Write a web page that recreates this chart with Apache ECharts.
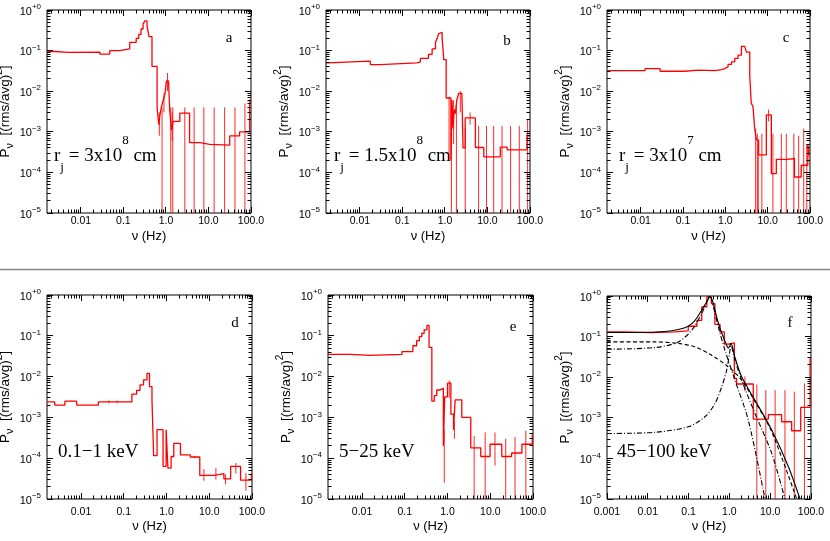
<!DOCTYPE html>
<html><head><meta charset="utf-8">
<script src="https://cdn.jsdelivr.net/npm/echarts@6/dist/echarts.min.js"></script>
<style>html,body{margin:0;padding:0;background:#fff}#c{width:830px;height:541px}</style>
</head><body><div id="c"></div>
<script>
// ---------------- data ----------------
// bin edges (Hz) and power per bin, [(rms/avg)^2]/Hz
const aEdges = [0.0016,0.0025,0.005,0.028,0.048,0.082,0.141,0.2,0.23,0.26,0.29,0.32,0.36,0.40,0.47,0.62,0.68,0.72,0.78,0.86,0.95,1.03,1.15,1.23,1.35,1.48,2.12,3.6,6.3,10.7,31.6,54,93,100];
const aPow   = [0.095,0.09,0.092,0.082,0.1,0.11,0.16,0.2,0.25,0.34,0.45,0.54,0.4,0.22,0.041,0.0039,0.0015,0.0025,0.004,0.0059,0.0085,0.018,0.02,0.0033,0.0011,0.0018,0.0029,0.00054,0.00049,0.00047,0.00079,0.001,0.006];
const aErr   = [[0.7,0.0008,0.003],[0.81,0,0.004],[0.9,0.003,0.009],[1.09,0.01,0.028],[1.3,0,0.004],[1.4,0.0006,0.003],[1.45,0,0.004],[2.78,0,0.004],[4.6,0,0.004],[7.8,0,0.004],[13.6,0,0.004],[24,0,0.004],[42,0,0.004],[72,0,0.005]];

const bEdges = [0.0016,0.0018,0.0176,0.03,0.22,0.265,0.41,0.5,0.6,0.66,0.71,0.78,0.86,0.94,1.07,1.38,1.47,1.55,1.65,1.76,1.9,2.1,2.5,2.67,3.0,5.2,8.2,15,20,29,85,100];
const bPow   = [0.05,0.055,0.045,0.05,0.053,0.064,0.081,0.11,0.16,0.2,0.26,0.28,0.2,0.06,0.0068,0.0002,0.006,0.0012,0.0035,0.0028,0.006,0.0088,0.0085,0.0004,0.0022,0.00041,0.00024,0.00024,0.00042,0.00036,0.0008];
const bErr   = [[1.25,0.0002,0.0073],[1.42,0,0.0011],[1.6,0.0005,0.006],[1.86,0,0.0045],[2.3,0.003,0.01],[3.0,0,0.0012],[3.9,0.0015,0.003],[6.2,0,0.0014],[9.5,0,0.0014],[14,0,0.0014],[22,0,0.0014],[35,0,0.0014],[56,0,0.0014],[88,0,0.002]];

const cEdges = [0.0016,0.0127,0.0287,0.111,0.229,0.565,0.81,0.97,1.16,1.4,1.67,2.0,2.4,2.87,3.15,3.77,4.1,4.5,4.9,5.4,6.1,9.3,12.2,16,30,43,62,89,97,100];
const cPow   = [0.032,0.036,0.031,0.033,0.032,0.034,0.036,0.04,0.046,0.053,0.064,0.077,0.127,0.12,0.092,0.025,0.005,0.0042,0.0013,0.00063,0.00027,0.0026,0.000093,0.00021,0.00022,0.000077,0.00015,0.00048,0.00026];
const cErr   = [[5.2,0,0.0012],[5.7,0,0.0009],[6.0,0,0.0005],[7.3,0,0.0009],[10.5,0.0018,0.0035],[13.3,0,0.0009],[21,0,0.0009],[27.5,0,0.0009],[41.5,0,0.0009],[54,0,0.0008],[71,0,0.0012],[84,0,0.0005]];

const dEdges = [0.0016,0.00243,0.0042,0.0079,0.0254,0.155,0.2,0.24,0.29,0.35,0.40,0.457,0.5,0.6,0.83,0.98,1.08,1.28,1.48,2.12,3.6,6.0,12.8,22,31.6,54,97,100];
const dPow   = [0.0024,0.002,0.0025,0.002,0.0024,0.0037,0.0046,0.0063,0.0083,0.012,0.0057,0.0027,0.000115,0.0005,0.000063,0.0005,0.000057,0.00011,0.00023,0.00012,0.000107,0.000038,0.000042,0.000031,0.000063,0.000029,0.000042];
const dErr   = [[0.045,0.0022,0.0026],[0.07,0.0022,0.0026],[4.5,0.0001,0.000115],[7.5,0.000028,0.000054],[14.3,0.00003,0.000058],[24,0.000023,0.00004],[42,0.000042,0.000076],[72,0.000016,0.000043]];

const eEdges = [0.0016,0.0053,0.0156,0.086,0.155,0.19,0.22,0.25,0.284,0.33,0.37,0.43,0.49,0.56,0.67,0.8,0.86,1.0,1.2,1.38,1.51,2.16,3.5,6.0,9.9,18.6,31.7,55,96,100];
const ePow   = [0.035,0.033,0.035,0.041,0.057,0.076,0.095,0.115,0.14,0.18,0.052,0.0025,0.0034,0.0047,0.0052,0.0002,0.0032,0.0069,0.0012,0.0005,0.0027,0.001,0.00018,0.00011,0.00022,0.00011,0.000134,0.00022,0.00037];
const eErr   = [[0.84,0.000025,0.0005],[1.1,0.003,0.008],[1.45,0.0003,0.0008],[4.2,0,0.00035],[7.6,0,0.00043],[12.9,0.000066,0.00043],[23,0,0.0003],[38,0,0.00033],[68,0,0.00047]];

const fEdges = [0.001,0.0028,0.0125,0.046,0.098,0.16,0.21,0.28,0.36,0.44,0.59,0.75,0.94,1.32,1.5,3.85,9.0,19,33.6,56,95,100];
const fPow   = [0.13,0.126,0.13,0.138,0.18,0.25,0.54,0.95,0.65,0.2,0.13,0.065,0.07,0.0093,0.0068,0.00093,0.0012,0.0008,0.00048,0.0018,0.029];
const fErr   = [[2.4,0.0045,0.0105],[4.7,0,0.0066],[7.8,0,0.0048],[13.2,0,0.0048],[23,0,0.0048],[39,0,0.0044],[69,0,0.007]];

// model curves in panel f
const fTotF  = [0.001,0.0059,0.0264,0.056,0.098,0.144,0.209,0.277,0.335,0.404,0.487,0.589,0.71,0.857,0.94,1.09,1.37,2.0,4.24,10.9,27.8,53.8];
const fTotP  = [0.126,0.126,0.133,0.149,0.18,0.252,0.445,0.71,0.98,0.65,0.305,0.158,0.098,0.061,0.052,0.067,0.0305,0.0102,0.0027,0.0005,0.000063,0.00001];
const fBrdF  = [0.001,0.015,0.056,0.144,0.367,0.94,2.0,4.24,10.9,44.6];
const fBrdP  = [0.074,0.074,0.068,0.0557,0.0347,0.018,0.0084,0.0025,0.00045,0.00001];
const fQ1F   = [0.001,0.015,0.056,0.119,0.209,0.305,0.335,0.404,0.535,0.78,1.37,2.9,7.45];
const fQ1P   = [0.0489,0.0537,0.074,0.143,0.368,0.86,0.98,0.537,0.173,0.046,0.0084,0.00088,0.00001];
const fQ2F   = [0.001,0.015,0.098,0.252,0.443,0.646,0.857,1.035,1.09,1.37,2.0,4.24,10.9,23];
const fQ2P   = [0.00041,0.00044,0.0006,0.00106,0.00225,0.0058,0.0149,0.046,0.06,0.026,0.0084,0.00128,0.000133,0.00001];

// axis tick decades
const xDecades = [-3,-2,-1,0,1,2];
const yDecades = [-5,-4,-3,-2,-1,0];
const minorMult = [2,3,4,5,6,7,8,9];
const xLabels = {'-3':'0.001','-2':'0.01','-1':'0.1','0':'1.0','1':'10.0','2':'100.0'};

const texts = ['a','b','c','d','e','f'];
// ---------------------------------------------------------------

const SANS = 'Liberation Sans, Arial, Helvetica, sans-serif';
const SERIF = 'Liberation Serif, Times New Roman, serif';

const panels = [
  {grid:{left:47, top:10, width:204, height:203}, xmin:0.0016, edges:aEdges, pow:aPow, err:aErr, row:0},
  {grid:{left:326,top:10, width:204, height:203}, xmin:0.0016, edges:bEdges, pow:bPow, err:bErr, row:0},
  {grid:{left:607,top:10, width:203, height:203}, xmin:0.0016, edges:cEdges, pow:cPow, err:cErr, row:0},
  {grid:{left:47, top:295,width:205, height:204}, xmin:0.0016, edges:dEdges, pow:dPow, err:dErr, row:1},
  {grid:{left:328,top:295,width:205, height:204}, xmin:0.0016, edges:eEdges, pow:ePow, err:eErr, row:1},
  {grid:{left:607,top:296,width:204, height:203}, xmin:0.001,  edges:fEdges, pow:fPow, err:fErr, row:1}
];

function isDecade(v){ const e=Math.log10(v); return Math.abs(e-Math.round(e))<1e-6; }
function xFmt(v){ if(!isDecade(v)) return ''; return xLabels[String(Math.round(Math.log10(v)))]||''; }
function yFmt(v){ if(!isDecade(v)) return ''; const e=Math.round(Math.log10(v)); return '{b|10}{s|'+(e===0?'+0':'\u2212'+(-e))+'}'; }

// tick values [value, isMajor] within [lo, hi]
function tickVals(decs, lo, hi){
  const out=[];
  decs.forEach(e=>{
    const base=Math.pow(10,e);
    [[1,1]].concat(minorMult.map(m=>[m,0])).forEach(([m,maj])=>{
      const v=m*base; if (v>=lo*0.9999 && v<=hi*1.0001) out.push([v,maj]);
    });
  });
  return out;
}
const MAJ=6, MIN=3.5;

function errRender(params, api){
  const cs=params.coordSys, f=api.value(0), lo=api.value(1), hi=api.value(2);
  const top=api.coord([f,hi]);
  let yb = lo>0 ? api.coord([f,lo])[1] : cs.y+cs.height;
  yb=Math.min(yb, cs.y+cs.height);
  return {type:'line',shape:{x1:top[0],y1:Math.max(top[1],cs.y),x2:top[0],y2:yb},
          style:{stroke:'#ff0000',lineWidth:1,opacity:0.85}};
}

const grids=[], xAxes=[], yAxes=[], series=[];
panels.forEach((p,i)=>{
  grids.push(Object.assign({show:true,borderColor:'#000',borderWidth:1,backgroundColor:'transparent',
    containLabel:false,outerBoundsMode:'none'},p.grid));
  xAxes.push({type:'log',logBase:10,gridIndex:i,min:p.xmin,max:100,
    axisLine:{show:false},axisTick:{show:false},
    splitLine:{show:false},minorTick:{show:false},
    axisLabel:{formatter:xFmt,color:'#000',fontSize:10.5,fontFamily:SANS,margin:p.row?8:3,showMinLabel:true,showMaxLabel:true},
    name:'\u03bd (Hz)',nameLocation:'middle',nameGap:p.row?21:17,
    nameTextStyle:{color:'#000',fontSize:13,fontFamily:SANS}});
  yAxes.push({type:'log',logBase:10,gridIndex:i,min:1e-5,max:1,
    axisLine:{show:false},axisTick:{show:false},
    splitLine:{show:false},
    axisLabel:{formatter:yFmt,margin:6,color:'#000',
      rich:{b:{fontSize:11,fontFamily:SANS,color:'#000',verticalAlign:'bottom'},
            s:{fontSize:8,fontFamily:SANS,color:'#000',verticalAlign:'bottom',padding:[0,0,6,0]}}},
    name:'{m|P}{sub|\u03bd}{m|  [(rms/avg)}{sup|2}{m|]}',nameLocation:'middle',nameRotate:90,nameGap:22,
    nameTextStyle:{color:'#000',rich:{
      m:{fontSize:13.5,fontFamily:SANS,color:'#000',verticalAlign:'bottom',padding:[0,0,3,0]},
      sub:{fontSize:11,fontFamily:SANS,color:'#000',verticalAlign:'bottom'},
      sup:{fontSize:10,fontFamily:SANS,color:'#000',verticalAlign:'bottom',padding:[0,0,11,0]}}}});

  const stepData=p.edges.map((e,k)=>[e,p.pow[Math.min(k,p.pow.length-1)]]);
  series.push({type:'line',xAxisIndex:i,yAxisIndex:i,data:stepData,step:'end',showSymbol:false,
    lineStyle:{color:'#ff0000',width:1.3},silent:true,animation:false,z:3});
  series.push({type:'custom',xAxisIndex:i,yAxisIndex:i,data:p.err,renderItem:errRender,
    encode:{x:0,y:2},silent:true,animation:false,z:3});
});

// model curves in panel f
const zipP=(a,b)=>a.map((v,k)=>[v,b[k]]);
const modelDefs=[
  {f:fTotF,p:fTotP,type:'solid'},
  {f:fBrdF,p:fBrdP,type:[4,2.5]},
  {f:fQ1F,p:fQ1P,type:[5,2,1,2]},
  {f:fQ2F,p:fQ2P,type:[5,2,1,2]}
];
modelDefs.forEach(m=>series.push({type:'line',xAxisIndex:5,yAxisIndex:5,data:zipP(m.f,m.p),smooth:0.3,
  showSymbol:false,lineStyle:{color:'#000',width:1.1,type:m.type},silent:true,animation:false,z:4}));

// annotations
const letterPos=[[229,38],[507,41],[786,38],[235,323],[513,327],[790,323]];
const graphics=[];
letterPos.forEach((q,k)=>graphics.push({type:'text',x:q[0],y:q[1],silent:true,
  style:{text:texts[k],font:'15px '+SERIF,fill:'#000',textAlign:'center',textVerticalAlign:'middle'}}));

const rjRich={
  m:{fontSize:19,fontFamily:SERIF,color:'#000',verticalAlign:'bottom',padding:[0,0,8,0]},
  sub:{fontSize:13,fontFamily:SERIF,color:'#000',verticalAlign:'bottom'},
  sup:{fontSize:13,fontFamily:SERIF,color:'#000',verticalAlign:'bottom',padding:[0,0,27,0]}};
const rjTexts=[
  [54,'{m|r}{sub|j}{m| = 3x10}{sup|8}{m| cm}'],
  [334,'{m|r}{sub|j}{m| = 1.5x10}{sup|8}{m| cm}'],
  [619,'{m|r}{sub|j}{m| = 3x10}{sup|7}{m| cm}']];
rjTexts.forEach(t=>graphics.push({type:'text',x:t[0],y:174,silent:true,
  style:{text:t[1],rich:rjRich,textAlign:'left',textVerticalAlign:'bottom'}}));
[[58,'0.1\u22121 keV'],[339,'5\u221225 keV'],[617,'45\u2212100 keV']].forEach(t=>graphics.push({type:'text',x:t[0],y:452,silent:true,
  style:{text:t[1],font:'19px '+SERIF,fill:'#000',textAlign:'left',textVerticalAlign:'middle'}}));
// separator between the rows
graphics.push({type:'line',silent:true,shape:{x1:0,y1:269.5,x2:830,y2:269.5},style:{stroke:'#858585',lineWidth:1.6}});

const chart=echarts.init(document.getElementById('c'),null,{renderer:'canvas'});
chart.setOption({animation:false,backgroundColor:'#fff',grid:grids,xAxis:xAxes,yAxis:yAxes,series:series,graphic:graphics});

// axis ticks (major + minor), inside, on all four sides; positions come from the axes' own scales
panels.forEach((p,i)=>{
  const xl=chart.convertToPixel({xAxisIndex:i},p.xmin), xr=chart.convertToPixel({xAxisIndex:i},100);
  const yt=chart.convertToPixel({yAxisIndex:i},1), yb=chart.convertToPixel({yAxisIndex:i},1e-5);
  tickVals(xDecades,p.xmin,100).forEach(([v,m])=>{
    const L=m?MAJ:MIN;
    const px=Math.round(chart.convertToPixel({xAxisIndex:i},v)-0.5)+0.5;
    graphics.push({type:'line',silent:true,z:50,shape:{x1:px,y1:yb,x2:px,y2:yb-L},style:{stroke:'#000',lineWidth:1}});
    graphics.push({type:'line',silent:true,z:50,shape:{x1:px,y1:yt,x2:px,y2:yt+L},style:{stroke:'#000',lineWidth:1}});
  });
  tickVals(yDecades,1e-5,1).forEach(([v,m])=>{
    const L=m?MAJ:MIN;
    const py=Math.round(chart.convertToPixel({yAxisIndex:i},v)-0.5)+0.5;
    graphics.push({type:'line',silent:true,z:50,shape:{x1:xl,y1:py,x2:xl+L,y2:py},style:{stroke:'#000',lineWidth:1}});
    graphics.push({type:'line',silent:true,z:50,shape:{x1:xr,y1:py,x2:xr-L,y2:py},style:{stroke:'#000',lineWidth:1}});
  });
});
chart.setOption({graphic:graphics});
</script></body></html>
